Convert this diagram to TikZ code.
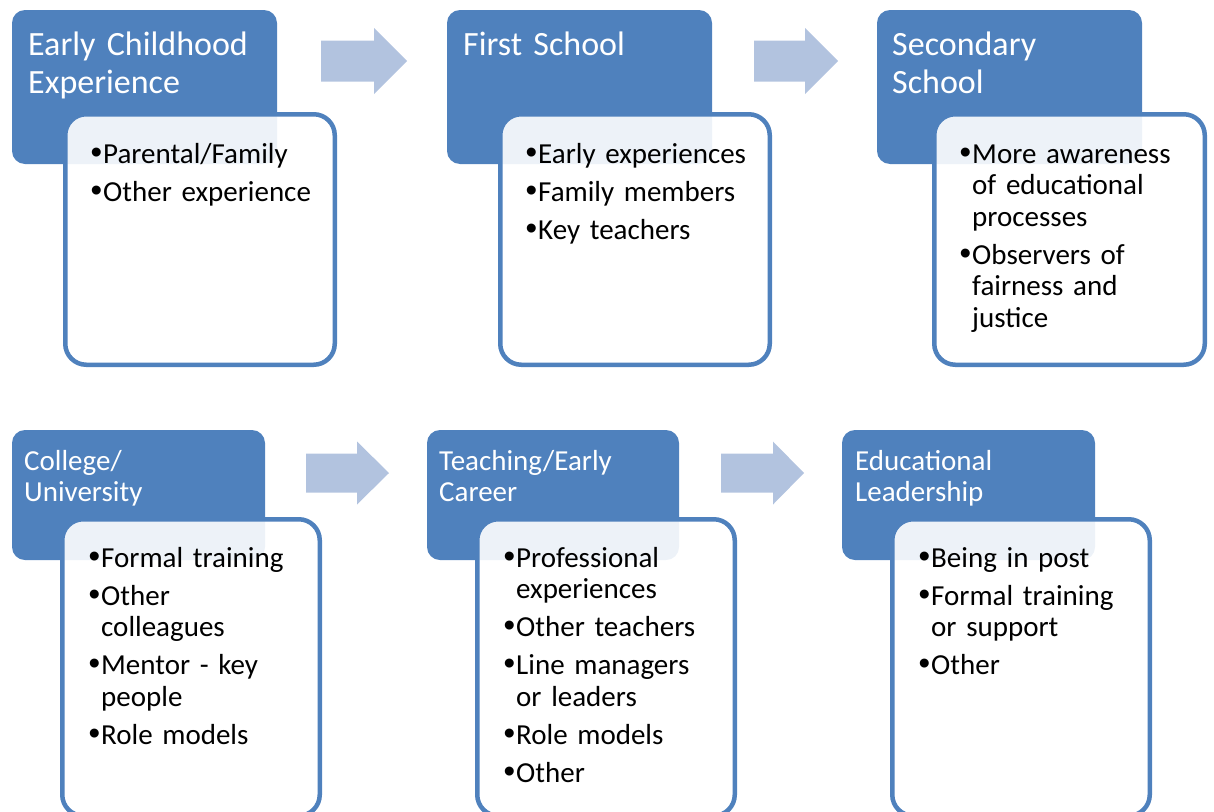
\documentclass[tikz,border=0pt]{standalone}
\usepackage{fontspec}
\setmainfont{Carlito}
\newfontfamily\bulletglyph{Liberation Sans}

\definecolor{stageblue}{HTML}{4F81BD}
\definecolor{flowblue}{HTML}{B2C3DF}

% bullet items with a hanging indent; \bdone closes the last paragraph
\newcommand{\bitem}[1]{\noindent\hangindent=12.5pt\hangafter=1\makebox[12.5pt][l]{{\bulletglyph\fontsize{33}{31.5}\selectfont\textbullet}}#1}
\newcommand{\nitem}[1]{\par\vspace{6.5pt}\bitem{#1}}
\newcommand{\bdone}{\par}

\tikzset{
  stagehead/.style={fill=stageblue, rounded corners=13pt, inner sep=0pt, draw=none},
  stagecard/.style={draw=stageblue, line width=4.5pt, fill=white, fill opacity=0.9,
                    draw opacity=1, rounded corners=21pt, inner sep=0pt},
  bigtitle/.style={anchor=base west, inner sep=0pt, text=white, text width=250pt,
                   align=left, font=\fontsize{34}{38}\selectfont},
  smalltitle/.style={anchor=base west, inner sep=0pt, text=white, text width=240pt,
                     align=left, font=\fontsize{29}{31}\selectfont},
  bullets/.style={anchor=base west, inner sep=0pt, text=black, text width=250pt,
                  align=left, font=\fontsize{29}{31.5}\selectfont},
  flow/.style={fill=flowblue, draw=none}
}

\begin{document}
\begin{tikzpicture}[x=1pt, y=-1pt]
\useasboundingbox (0,0) rectangle (1214,811);

% ---------- block arrows between stages ----------
\fill[flow] (321,40.5) -- (374,40.5) -- (374,28) -- (407,61) -- (374,94) -- (374,81.5) -- (321,81.5) -- cycle;
\fill[flow] (754,40.5) -- (805,40.5) -- (805,28) -- (838,61) -- (805,94) -- (805,81.5) -- (754,81.5) -- cycle;
\fill[flow] (306,453.5) -- (357,453.5) -- (357,441.5) -- (389,473) -- (357,504.5) -- (357,492.5) -- (306,492.5) -- cycle;
\fill[flow] (721,453.5) -- (773,453.5) -- (773,441.5) -- (804,473) -- (773,504.5) -- (773,492.5) -- (721,492.5) -- cycle;

% ---------- top row ----------
\node[stagehead, minimum width=265pt, minimum height=154pt] (h1) at (144.5,87) {};
\node[stagehead, minimum width=265pt, minimum height=154pt] (h2) at (579.5,87) {};
\node[stagehead, minimum width=265pt, minimum height=154pt] (h3) at (1009.5,87) {};

\node[bigtitle] (t1) at (28,55) {Early Childhood\newline Experience};
\node[bigtitle] (t2) at (463,55) {First School};
\node[bigtitle] (t3) at (892,55) {Secondary\newline School};

\node[stagecard, minimum width=269.5pt, minimum height=250.5pt] (c1) at (200,239.5) {};
\node[stagecard, minimum width=269.5pt, minimum height=250.5pt] (c2) at (635,239.5) {};
\node[stagecard, minimum width=270.5pt, minimum height=250.5pt] (c3) at (1069.5,239.5) {};

\node[bullets] (b1) at (90.5,163) {\bitem{Parental/Family}\nitem{Other experience}\bdone};
\node[bullets] (b2) at (525.5,163) {\bitem{Early experiences}\nitem{Family members}\nitem{Key teachers}\bdone};
\node[bullets] (b3) at (959.5,163) {\bitem{More awareness\newline of educational\newline processes}\nitem{Observers of\newline fairness and\newline justice}\bdone};

% ---------- bottom row ----------
\node[stagehead, minimum width=253pt, minimum height=130pt] (h4) at (138.5,495) {};
\node[stagehead, minimum width=252pt, minimum height=130pt] (h5) at (553,495) {};
\node[stagehead, minimum width=253pt, minimum height=130pt] (h6) at (968.5,495) {};

\node[smalltitle] (t4) at (24,470) {College/\newline University};
\node[smalltitle] (t5) at (439,470) {Teaching/Early\newline Career};
\node[smalltitle] (t6) at (855,470) {Educational\newline Leadership};

\node[stagecard, minimum width=257.5pt, minimum height=296.5pt] (c4) at (191,667.5) {};
\node[stagecard, minimum width=257.5pt, minimum height=296.5pt] (c5) at (606,667.5) {};
\node[stagecard, minimum width=257.5pt, minimum height=296.5pt] (c6) at (1021,667.5) {};

\node[bullets] (b4) at (88.5,567) {\bitem{Formal training}\nitem{Other\newline colleagues}\nitem{Mentor - key\newline people}\nitem{Role models}\bdone};
\node[bullets] (b5) at (503.5,567) {\bitem{Professional\newline experiences}\nitem{Other teachers}\nitem{Line managers\newline or leaders}\nitem{Role models}\nitem{Other}\bdone};
\node[bullets] (b6) at (918.5,567) {\bitem{Being in post}\nitem{Formal training\newline or support}\nitem{Other}\bdone};
\end{tikzpicture}
\end{document}
